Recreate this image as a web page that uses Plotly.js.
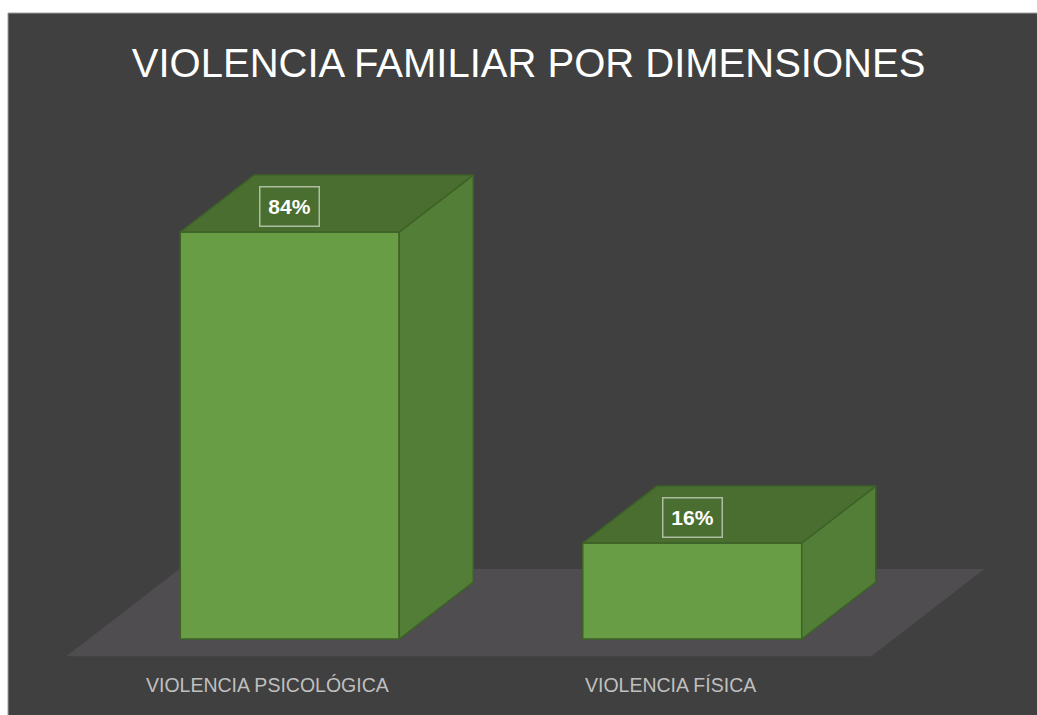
<!DOCTYPE html>
<html>
<head>
<meta charset="utf-8">
<script src="https://cdn.plot.ly/plotly-3.0.1.min.js"></script>
<style>html,body{margin:0;padding:0;background:#fff;}#chart{width:1037px;height:715px;}</style>
</head>
<body>
<div id="chart"></div>
<script>
// ---- data ----
const CATEGORIES = ["VIOLENCIA PSICOLÓGICA", "VIOLENCIA FÍSICA"];
const VALUES = [84, 16];
const LABELS = ["84%", "16%"];

// ---- 3D look (oblique projection in data units) ----
const AXIS_MIN = -5;        // value-axis floor of the original chart
const BAR_W = 0.544;        // bar width in category units
const DX = 0.1839;          // depth offset along x (category units)
const DY = 12.46;           // depth offset along y (value units)
const FLOOR_FRONT = -0.3;   // floor depth extent (fraction of bar depth)
const FLOOR_BACK = 1.228;

const C_FRONT = "#699d45", C_TOP = "#4a6e30", C_SIDE = "#537e37", C_EDGE = "#3d6227";
const C_FLOOR = "#4f4d4f", C_BG = "#404040";

const xs = CATEGORIES.map((c, i) => i);
const traces = [];

// front faces: real bars
traces.push({
  type: "bar",
  x: xs,
  y: VALUES.map(v => v - AXIS_MIN),
  base: AXIS_MIN,
  width: BAR_W,
  marker: {color: C_FRONT, line: {color: C_EDGE, width: 1.5}},
  hoverinfo: "skip",
  showlegend: false
});

// top and side faces
xs.forEach((x, i) => {
  const v = VALUES[i];
  const l = x - BAR_W / 2, r = x + BAR_W / 2;
  traces.push({
    type: "scatter", mode: "lines", fill: "toself", fillcolor: C_SIDE,
    x: [r, r, r + DX, r + DX, r],
    y: [AXIS_MIN, v, v + DY, AXIS_MIN + DY, AXIS_MIN],
    line: {color: C_EDGE, width: 1.5}, hoverinfo: "skip", showlegend: false
  });
  traces.push({
    type: "scatter", mode: "lines", fill: "toself", fillcolor: C_TOP,
    x: [l, r, r + DX, l + DX, l],
    y: [v, v, v + DY, v + DY, v],
    line: {color: C_EDGE, width: 1.5}, hoverinfo: "skip", showlegend: false
  });
});

// floor
const fx0 = -0.5, fx1 = CATEGORIES.length - 0.5;
const fp = (x, d) => [x + d * DX, AXIS_MIN + d * DY];
const floorPts = [fp(fx0, FLOOR_FRONT), fp(fx1, FLOOR_FRONT), fp(fx1, FLOOR_BACK), fp(fx0, FLOOR_BACK)];
const floorPath = "M " + floorPts.map(p => p[0] + "," + p[1]).join(" L ") + " Z";

const annotations = [];
xs.forEach((x, i) => {
  annotations.push({
    x: x, y: VALUES[i], xref: "x", yref: "y", yshift: 26,
    text: "<b>" + LABELS[i] + "</b>", showarrow: false,
    font: {family: "Liberation Sans, Arial, sans-serif", size: 21, color: "#ffffff"},
    bordercolor: "rgba(255,255,255,0.55)", borderwidth: 1.5, borderpad: 7,
    width: 44, height: 24, xanchor: "center", yanchor: "middle"
  });
  const fl = fp(x, FLOOR_FRONT);
  annotations.push({
    x: fl[0], y: fl[1], xref: "x", yref: "y", yshift: -29,
    text: CATEGORIES[i], showarrow: false,
    font: {family: "Liberation Sans, Arial, sans-serif", size: 19.5, color: "#bfbfbf"},
    xanchor: "center", yanchor: "middle"
  });
});

const layout = {
  width: 1037, height: 715,
  margin: {l: 8, r: 0, t: 13, b: 0, autoexpand: false},
  paper_bgcolor: "#ffffff",
  plot_bgcolor: C_BG,
  title: {
    text: "VIOLENCIA FAMILIAR POR DIMENSIONES",
    font: {family: "Liberation Sans, Arial, sans-serif", size: 40, color: "#ffffff"},
    xref: "container", yref: "container", x: 0.5097, y: 0.9112,
    xanchor: "center", yanchor: "middle"
  },
  xaxis: {range: [-0.7, 1.8565], visible: false, fixedrange: true},
  yaxis: {range: [-21.6, 131.89], visible: false, fixedrange: true},
  showlegend: false,
  hovermode: false,
  annotations: annotations,
  shapes: [
    {type: "path", xref: "x", yref: "y", path: floorPath, fillcolor: C_FLOOR, line: {width: 0}, layer: "below"},
    {type: "path", xref: "paper", yref: "paper", path: "M 0,0 L 0,1 L 1,1", line: {color: "#a0a0a0", width: 1}, layer: "above"}
  ]
};

Plotly.newPlot("chart", traces, layout, {displayModeBar: false, staticPlot: true});
</script>
</body>
</html>
